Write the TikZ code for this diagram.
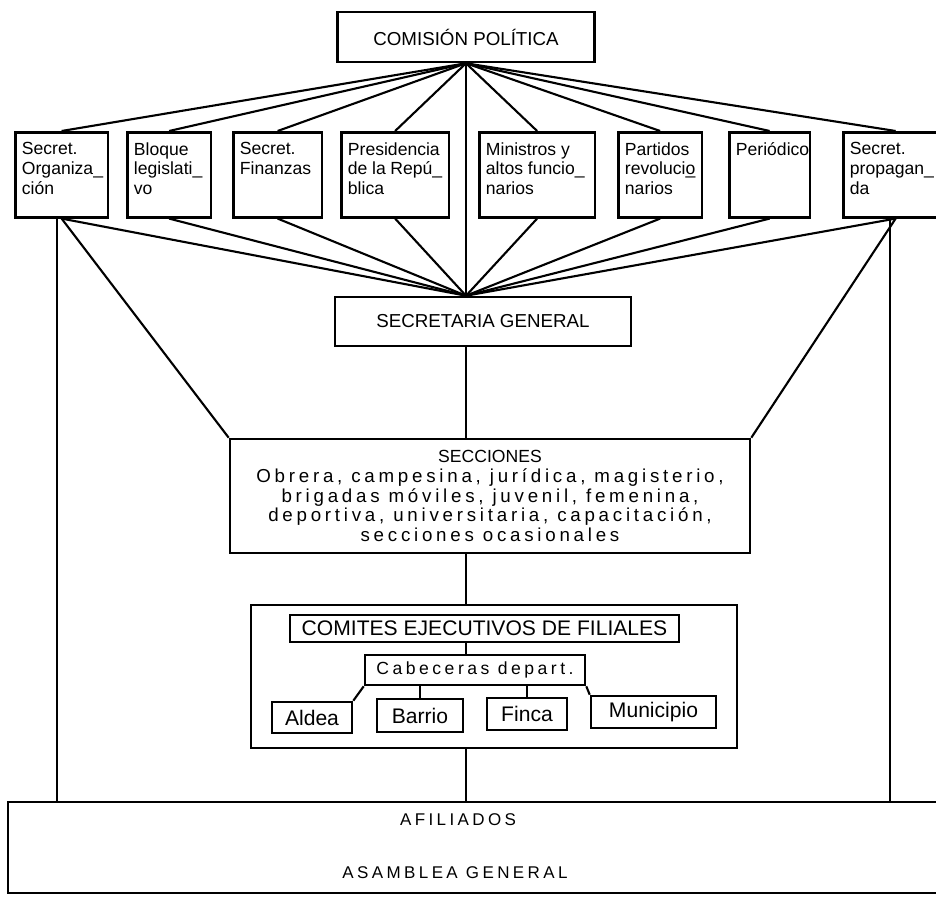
\documentclass[tikz,border=0pt]{standalone}
\usepackage{fontspec}
\setmainfont{Liberation Sans}
\newfontfamily\spfont{Liberation Sans}[LetterSpace=20]
\usetikzlibrary{calc,positioning}
\newcommand{\tbx}[2]{\parbox[t][1.95cm][t]{#1}{\raggedright #2}}

\tikzset{
  box/.style={draw, line width=2.2pt, inner sep=2pt},
  topbox/.style={box, anchor=north west, inner xsep=0.2cm, inner ysep=0.3cm,
    font=\fontsize{15}{17}\selectfont},
  subbox/.style={box, inner sep=1pt, font=\fontsize{18}{20}\selectfont},
  link/.style={line width=1.8pt},
}

\begin{document}
\begin{tikzpicture}[x=0.03cm, y=-0.03cm]
  \clip (0,0) rectangle (936,897);
  % one unit = one pixel of the reference

  \node[box, minimum width=7.71cm, minimum height=1.5cm,
    font=\fontsize{16}{18}\selectfont] (cp) at (466,37) {COMISIÓN POLÍTICA};

  \node[topbox] (org) at (14,131) {\tbx{2.38cm}{Secret.\\Organiza\_\\ción}};
  \node[topbox] (bloque) at (126,131) {\tbx{2.11cm}{Bloque\\legislati\_\\vo}};
  \node[topbox] (finanzas) at (232,131) {\tbx{2.26cm}{Secret.\\Finanzas}};
  \node[topbox] (presid) at (340,131) {\tbx{2.83cm}{Presidencia\\de la Repú\_\\blica}};
  \node[topbox] (minis) at (478,131) {\tbx{3.07cm}{Ministros y\\altos funcio\_\\narios}};
  \node[topbox] (partidos) at (617,131) {\tbx{2.11cm}{Partidos\\revolucio\llap{\_}\\narios}};
  \node[topbox] (periodico) at (728,131) {\tbx{2.02cm}{Periódico}};
  \node[topbox] (propag) at (842,131) {\tbx{2.74cm}{Secret.\\propagan\_\\da}};

  \node[box, minimum width=8.88cm, minimum height=1.47cm,
    font=\fontsize{16}{18}\selectfont] (sg) at (483,321.5) {SECRETARIA GENERAL};

  \node[box, minimum width=15.6cm, minimum height=3.42cm, align=center,
    font=\spfont\fontsize{16}{17}\selectfont] (sec) at (490,496)
    {{\normalfont\fontsize{15}{17}\selectfont SECCIONES}\\
     Obrera, campesina, jurídica, magisterio,\\
     brigadas móviles, juvenil, femenina,\\
     deportiva, universitaria, capacitación,\\
     secciones ocasionales};

  \node[box, minimum width=14.58cm, minimum height=4.29cm] (com) at (494,676.5) {};
  \node[subbox, minimum width=11.67cm, minimum height=0.81cm] (comtit) at (484.5,628.5)
    {COMITES EJECUTIVOS DE FILIALES};
  \node[subbox, minimum width=6.6cm, minimum height=0.9cm,
    font=\spfont\fontsize{15}{17}\selectfont] (cab) at (475,670) {Cabeceras depart.};
  \node[subbox, minimum width=2.4cm, minimum height=0.93cm] (aldea) at (312,717.5) {Aldea};
  \node[subbox, minimum width=2.58cm, minimum height=0.99cm] (barrio) at (420,715.5) {Barrio};
  \node[subbox, minimum width=2.4cm, minimum height=0.96cm] (finca) at (527,714) {Finca};
  \node[subbox, minimum width=3.75cm, minimum height=0.96cm] (munic) at (653.5,712) {Municipio};

  \node[box, minimum width=28.56cm, minimum height=2.73cm] (afil) at (484,847.5) {};
  \node[font=\spfont\fontsize{14.5}{17}\selectfont] (afiltxt) at (458,820) {AFILIADOS};
  \node[font=\spfont\fontsize{14.5}{17}\selectfont] (asamb) at (455,873) {ASAMBLEA GENERAL};

  % connectors
  \coordinate (jn) at (sg.north -| cp.south);
  \foreach \n in {org,bloque,finanzas,presid,minis,partidos,periodico,propag} {
    \draw[link] (cp.south) -- (\n.north);
    \draw[link] (\n.south) -- (jn);
  }
  \draw[link] (cp.south) -- (jn);
  \draw[link] (jn |- sg.south) -- (jn |- sec.north);
  \draw[link] (jn |- sec.south) -- (jn |- com.north);
  \draw[link] (jn |- comtit.south) -- (jn |- cab.north);
  \draw[link] (jn |- com.south) -- (jn |- afil.north);

  \draw[link] (org.south) -- (sec.north west);
  \draw[link] (propag.south) -- (sec.north east);
  \draw[link] ([xshift=-0.15cm]org.south) -- ([xshift=-0.15cm]org.south |- afil.north);
  \draw[link] ([xshift=-0.18cm]propag.south) -- ([xshift=-0.18cm]propag.south |- afil.north);

  \draw[link] (cab.south west) -- (aldea.north east);
  \draw[link] (barrio.north) -- (barrio.north |- cab.south);
  \draw[link] (finca.north) -- (finca.north |- cab.south);
  \draw[link] (cab.south east) -- (munic.north west);
\end{tikzpicture}
\end{document}
